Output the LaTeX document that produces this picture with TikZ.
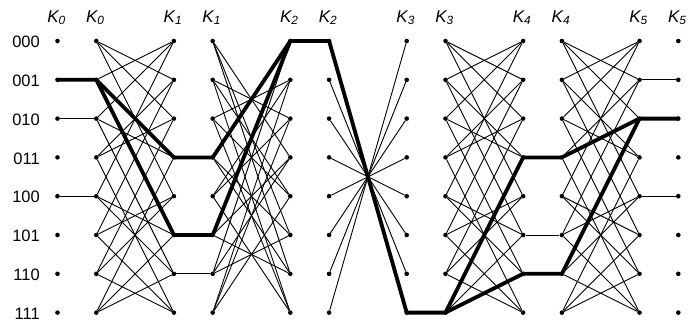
\documentclass[tikz,border=0pt]{standalone}
\usepackage{fontspec}
\setmainfont{Liberation Sans}
\begin{document}
\begin{tikzpicture}[x=1pt,y=-1pt,
  dot/.style={circle,fill=black,inner sep=0pt,minimum size=4.6pt},
  thinedge/.style={line width=0.9pt},
  thickedge/.style={line width=3.8pt,line join=round},
  klabel/.style={font=\fontsize{17}{19}\selectfont\itshape,anchor=base,inner sep=0pt},
  rlabel/.style={font=\fontsize{16.5}{18}\selectfont,anchor=east,inner sep=0pt}]
\useasboundingbox (0,0) rectangle (688,322);
% nodes
\foreach \c/\k/\j in {0/0/0,1/1/0,2/3/1,3/4/1,4/6/2,5/7/2,6/9/3,7/10/3,8/12/4,9/13/4,10/15/5,11/16/5}{
  \foreach \r in {0,...,7}{
    \node[dot] (c\c-\r) at ({57.5+38.8*\k},{41+38.8*\r}) {};
  }
  \node[klabel] (k\c) at ({56.5+38.8*\k},22) {K\textsubscript{\j}};
}
% row labels
\foreach \r/\t in {0/000,1/001,2/010,3/011,4/100,5/101,6/110,7/111}{
  \node[rlabel] (l\r) at (40,{42+38.8*\r}) {\t};
}
% sparse links
\foreach \r in {2,4} \draw[thinedge] (c0-\r) -- (c1-\r);
\draw[thinedge] (c2-6) -- (c3-6);
\foreach \a/\b in {1/6,2/5,3/4,4/3,5/2,6/1,7/0} \draw[thinedge] (c5-\a) -- (c6-\b);
\draw[thinedge] (c8-5) -- (c9-5);
\foreach \r in {1,4} \draw[thinedge] (c10-\r) -- (c11-\r);
% distance-one blocks
\foreach \L/\R in {1/2,7/8,9/10}{
  \foreach \a/\bs in {0/{1,2,4},1/{0,3,5},2/{3,0,6},3/{2,1,7},4/{5,6,0},5/{4,7,1},6/{7,4,2},7/{6,5,3}}{
    \foreach \b in \bs \draw[thinedge] (c\L-\a) -- (c\R-\b);
  }
}
% distance-two block
\foreach \a/\bs in {0/{3,5,6},1/{2,4,7},2/{1,7,4},3/{0,6,5},4/{7,1,2},5/{6,0,3},6/{5,3,0},7/{4,2,1}}{
  \foreach \b in \bs \draw[thinedge] (c3-\a) -- (c4-\b);
}
% thick paths
\draw[thickedge] (c0-1.center) -- (c1-1.center) -- (c2-3.center) -- (c3-3.center) -- (c4-0.center) -- (c5-0.center) -- (c6-7.center) -- (c7-7.center) -- (c8-3.center) -- (c9-3.center) -- (c10-2.center) -- (c11-2.center);
\draw[thickedge] (c1-1.center) -- (c2-5.center) -- (c3-5.center) -- (c4-0.center);
\draw[thickedge] (c7-7.center) -- (c8-6.center) -- (c9-6.center) -- (c10-2.center);
\end{tikzpicture}
\end{document}
